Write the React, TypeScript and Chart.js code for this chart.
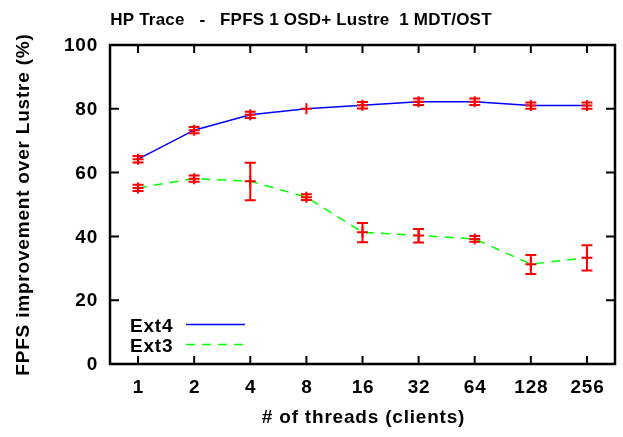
import React, { useEffect, useRef } from "react";
import { Chart, registerables } from "chart.js";

Chart.register(...registerables);

const categories = ["1", "2", "4", "8", "16", "32", "64", "128", "256"];
const ext4Values = [64.2, 73.3, 78.1, 80.0, 81.1, 82.2, 82.2, 81.0, 81.0];
const ext4Low = [63.2, 72.3, 77.1, 80.0, 80.1, 81.2, 81.2, 80.0, 80.0];
const ext4High = [65.2, 74.3, 79.1, 80.0, 82.1, 83.2, 83.2, 82.0, 82.0];
const ext3Values = [55.2, 58.1, 57.3, 52.3, 41.3, 40.3, 39.2, 31.3, 33.3];
const ext3Low = [54.2, 57.1, 51.3, 51.4, 38.2, 38.1, 38.3, 28.2, 29.3];
const ext3High = [56.2, 59.1, 63.1, 53.2, 44.2, 42.3, 40.1, 34.2, 37.2];
const yTicks = [0, 20, 40, 60, 80, 100];

const titleText = "HP Trace   -   FPFS 1 OSD+ Lustre  1 MDT/OST";
const xTitle = "# of threads (clients)";
const yTitle = "FPFS improvement over Lustre (%)";
const seriesNames = ["Ext4", "Ext3"];

const FONT = '"Liberation Sans", Arial, sans-serif';

const gnuplotPlugin = {
  id: "gnuplotDecor",
  afterDatasetsDraw(chart: any) {
    const ctx = chart.ctx as CanvasRenderingContext2D;
    const xs = chart.scales.x;
    const ys = chart.scales.y;
    const series = [
      { low: ext4Low, high: ext4High },
      { low: ext3Low, high: ext3High },
    ];
    ctx.save();
    ctx.strokeStyle = "#ff0000";
    ctx.lineWidth = 2;
    const cap = 5.5;
    series.forEach((s) => {
      for (let i = 0; i < categories.length; i++) {
        const px = xs.getPixelForValue(i);
        const pl = ys.getPixelForValue(s.low[i]);
        const ph = ys.getPixelForValue(s.high[i]);
        if (Math.abs(pl - ph) < 0.5) continue;
        ctx.beginPath();
        ctx.moveTo(px, pl);
        ctx.lineTo(px, ph);
        ctx.moveTo(px - cap, pl);
        ctx.lineTo(px + cap, pl);
        ctx.moveTo(px - cap, ph);
        ctx.lineTo(px + cap, ph);
        ctx.stroke();
      }
    });
    ctx.restore();
  },
  afterDraw(chart: any) {
    const ctx = chart.ctx as CanvasRenderingContext2D;
    const xs = chart.scales.x;
    const ys = chart.scales.y;
    const a = chart.chartArea;
    ctx.save();
    // border
    ctx.strokeStyle = "#000";
    ctx.lineWidth = 2.5;
    ctx.strokeRect(a.left, a.top, a.right - a.left, a.bottom - a.top);
    // ticks
    ctx.lineWidth = 2;
    ctx.beginPath();
    yTicks.forEach((v) => {
      const py = ys.getPixelForValue(v);
      ctx.moveTo(a.left, py);
      ctx.lineTo(a.left + 9, py);
      ctx.moveTo(a.right, py);
      ctx.lineTo(a.right - 9, py);
    });
    categories.forEach((_, i) => {
      const px = xs.getPixelForValue(i);
      ctx.moveTo(px, a.bottom);
      ctx.lineTo(px, a.bottom - 8);
      ctx.moveTo(px, a.top);
      ctx.lineTo(px, a.top + 8);
    });
    ctx.stroke();

    ctx.fillStyle = "#000";
    (ctx as any).letterSpacing = "0.8px";
    ctx.font = `bold 19px ${FONT}`;
    // y tick labels
    ctx.textAlign = "right";
    ctx.textBaseline = "middle";
    yTicks.forEach((v) => {
      ctx.fillText(String(v), a.left - 12, ys.getPixelForValue(v) + 1);
    });
    // x tick labels
    ctx.textAlign = "center";
    ctx.textBaseline = "alphabetic";
    categories.forEach((c, i) => {
      ctx.fillText(c, xs.getPixelForValue(i) + 0.5, a.bottom + 29);
    });
    // x title
    ctx.fillText(xTitle, (a.left + a.right) / 2 + 1, a.bottom + 59);
    // y title
    ctx.save();
    ctx.translate(29, (a.top + a.bottom) / 2);
    ctx.rotate(-Math.PI / 2);
    ctx.textAlign = "center";
    ctx.textBaseline = "alphabetic";
    ctx.fillText(yTitle, 0, 0);
    ctx.restore();
    // legend
    const colors = ["#0000ff", "#00ff00"];
    const dashes = [[], [9, 7]];
    const legendYs = [324.5, 344.5];
    seriesNames.forEach((name, i) => {
      ctx.textAlign = "left";
      ctx.textBaseline = "alphabetic";
      ctx.fillStyle = "#000";
      ctx.fillText(name, 130, legendYs[i] + 7.5);
      ctx.save();
      ctx.strokeStyle = colors[i];
      ctx.lineWidth = 1.5;
      ctx.setLineDash(dashes[i]);
      ctx.beginPath();
      ctx.moveTo(186, legendYs[i]);
      ctx.lineTo(245, legendYs[i]);
      ctx.stroke();
      ctx.restore();
    });
    // title
    (ctx as any).letterSpacing = "0.2px";
    ctx.font = `bold 17px ${FONT}`;
    ctx.textAlign = "center";
    ctx.fillText(titleText, 301, 25);
    ctx.restore();
  },
};

export default function App() {
  const ref = useRef<HTMLCanvasElement | null>(null);
  useEffect(() => {
    document.body.style.margin = "0";
    const canvas = ref.current;
    if (!canvas) return;
    const chart = new Chart(canvas, {
      type: "line",
      data: {
        labels: categories,
        datasets: [
          {
            label: seriesNames[0],
            data: ext4Values,
            borderColor: "#0000ff",
            borderWidth: 1.5,
            pointStyle: "cross",
            pointRadius: 5.5,
            pointBorderColor: "#ff0000",
            pointBorderWidth: 2,
            pointBackgroundColor: "#ff0000",
            tension: 0,
            fill: false,
          },
          {
            label: seriesNames[1],
            data: ext3Values,
            borderColor: "#00ff00",
            borderWidth: 1.5,
            borderDash: [9, 7],
            pointStyle: "cross",
            pointRadius: 5.5,
            pointBorderColor: "#ff0000",
            pointBorderWidth: 2,
            pointBackgroundColor: "#ff0000",
            tension: 0,
            fill: false,
          },
        ],
      },
      options: {
        responsive: false,
        animation: false,
        devicePixelRatio: 1,
        layout: { padding: { left: 110, right: 8, top: 45, bottom: 73 } },
        plugins: {
          legend: { display: false },
          title: { display: false },
          tooltip: { enabled: false },
        },
        scales: {
          x: { type: "category", offset: true, display: false },
          y: { type: "linear", min: 0, max: 100, display: false },
        },
      },
      plugins: [gnuplotPlugin],
    });
    return () => chart.destroy();
  }, []);
  return (
    <div style={{ width: 623, height: 437, background: "#fff" }}>
      <canvas ref={ref} width={623} height={437} style={{ display: "block" }} />
    </div>
  );
}
